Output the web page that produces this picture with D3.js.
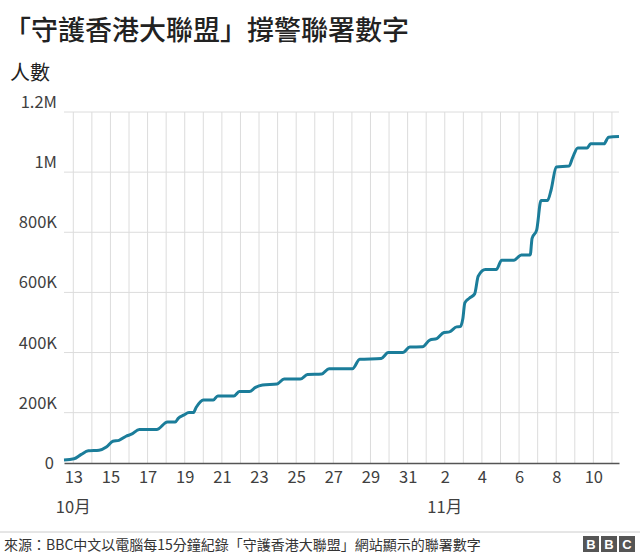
<!DOCTYPE html>
<html><head><meta charset="utf-8">
<script src="https://d3js.org/d3.v7.min.js"></script>
<style>body{margin:0;background:#fff}text{font-family:"Noto Sans CJK TC","Noto Sans",sans-serif}</style>
</head><body><svg id="c" width="640" height="556"></svg>
<script>
// x: days since Sep 30 (Oct 13 = 13, Nov 2 = 33)
const days = [12.50,13.04,13.43,13.81,14.39,14.78,15.13,15.46,15.84,16.13,16.56,17.49,18.07,18.49,18.65,18.94,19.23,19.46,19.62,20.00,20.54,20.78,21.65,21.94,22.48,22.81,23.19,23.97,24.35,25.22,25.61,26.38,26.77,28.03,28.42,29.58,29.96,30.74,31.12,31.80,32.19,32.57,32.96,33.25,33.64,33.83,33.97,34.08,34.32,34.61,34.80,35.19,35.77,36.06,36.73,37.12,37.60,37.70,37.95,38.18,38.53,38.73,39.00,39.69,39.89,40.16,40.66,40.85,41.57,41.82,42.38];
const signatures = [42.8,46.7,61.3,73,75,85.6,105,108,121.6,128.4,144,144,169,169,181,191.6,200.3,200.3,217.9,242,242,255.8,255.8,270.4,270.4,284,291.8,295.6,312,312,326.8,328.7,346.2,346.2,377.3,380.2,399.7,399.7,418.2,419.1,441.5,446.4,466.8,468.7,485.3,486.2,511.5,565,580.5,595.1,653.5,675.8,675.8,707,707,724.5,724.5,779.9,808.1,905.3,905.3,942.3,1017.2,1020.1,1049.3,1080.4,1080.4,1094,1094,1116.4,1118.3].map(v=>v*1000);
const xTicks = [13,15,17,19,21,23,25,27,29,31,33,35,37,39,41];
const yTicks = [0,200000,400000,600000,800000,1000000,1200000];
const yTickLabels = ["0","200K","400K","600K","800K","1M","1.2M"];
const monthLabels = [{d:13,t:"10月"},{d:33,t:"11月"}];

const svg = d3.select("#c");
const x = d3.scaleLinear().domain([12.5,42.38]).range([64,619]);
const y = d3.scaleLinear().domain([0,1200000]).range([472.8,112]);
const base = 463;

svg.append("text").attr("x",4).attr("y",40).attr("font-size",27).attr("font-weight",500).attr("fill","#222").text("「守護香港大聯盟」撐警聯署數字");
svg.append("text").attr("x",10).attr("y",80).attr("font-size",20).attr("fill","#222").text("人數");

svg.append("g").selectAll("line").data(d3.range(13,43)).join("line")
  .attr("x1",d=>x(d)).attr("x2",d=>x(d)).attr("y1",112).attr("y2",base)
  .attr("stroke","#dcdcdc").attr("stroke-width",1);
svg.append("g").selectAll("line").data(yTicks.slice(1)).join("line")
  .attr("x1",64).attr("x2",619).attr("y1",d=>y(d)).attr("y2",d=>y(d))
  .attr("stroke","#dcdcdc").attr("stroke-width",1);
svg.append("g").selectAll("text").data(yTicks).join("text")
  .attr("x",d=>d===0?54:57).attr("y",d=>d===0?base+6:y(d)-4).attr("text-anchor","end")
  .attr("font-size",16.5).attr("fill","#404040").text((d,i)=>yTickLabels[i]);

const xa = svg.append("g").attr("transform",`translate(0,${base})`)
  .call(d3.axisBottom(x).tickValues(xTicks).tickSize(0).tickFormat(d=>d>31?d-31:d));
xa.select(".domain").attr("stroke","#555").attr("stroke-width",1.5);
xa.selectAll("text").attr("font-size",16.5).attr("fill","#404040").attr("dy","1.05em")
  .style("font-family","'Noto Sans CJK TC',sans-serif");
svg.append("g").selectAll("text").data(monthLabels).join("text")
  .attr("x",d=>x(d.d)).attr("y",513).attr("text-anchor","middle").attr("font-size",16.5).attr("fill","#404040").text(d=>d.t);

svg.append("path").datum(days.map((d,i)=>[d,signatures[i]]))
  .attr("fill","none").attr("stroke","#1b7d9a").attr("stroke-width",3)
  .attr("d",d3.line().x(d=>x(d[0])).y(d=>y(d[1])).curve(d3.curveMonotoneX));

svg.append("line").attr("x1",0).attr("x2",640).attr("y1",532).attr("y2",532).attr("stroke","#ccc");
svg.append("text").attr("x",4).attr("y",550).attr("font-size",14).attr("fill","#333")
  .text("來源：BBC中文以電腦每15分鐘紀錄「守護香港大聯盟」網站顯示的聯署數字");
["B","B","C"].forEach((c,i)=>{
  svg.append("rect").attr("x",583+i*18).attr("y",536).attr("width",16).attr("height",16).attr("fill","#555");
  svg.append("text").attr("x",591+i*18).attr("y",549).attr("text-anchor","middle").attr("font-size",13).attr("font-weight","bold").attr("fill","#fff").style("font-family","Arial,'Liberation Sans'").text(c);
});
</script></body></html>
